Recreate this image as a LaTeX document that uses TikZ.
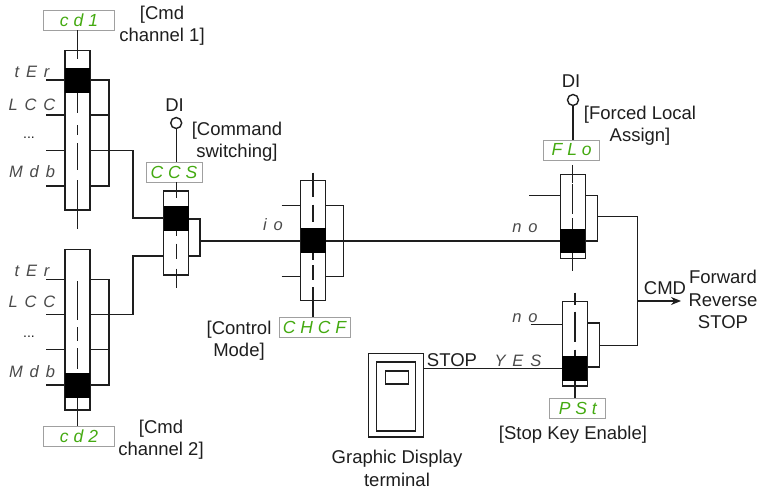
\documentclass[tikz,border=0pt]{standalone}
\usepackage{fontspec}
\setmainfont{Liberation Sans}
\newfontfamily\segf[LetterSpace=28]{Liberation Sans}
\newfontfamily\segg[LetterSpace=42]{Liberation Sans}
\usetikzlibrary{arrows.meta}
\definecolor{ink}{HTML}{1E1E1E}
\definecolor{lcd}{HTML}{44AA11}
\definecolor{frame}{HTML}{A0A0A0}
\definecolor{seggray}{HTML}{4A4A4A}
\tikzset{
  wire/.style={draw=ink,line width=1.4pt},
  swbox/.style={draw=ink,line width=1.4pt,fill=white,rectangle,inner sep=0pt,minimum width=25pt},
  band/.style={fill=black,rectangle,inner sep=0pt,minimum width=25pt,minimum height=25pt},
  lcdbox/.style={draw=frame,line width=0.9pt,fill=white,rectangle,inner sep=0pt,minimum height=20pt,text=lcd,font=\segf\itshape\fontsize{17.5}{17.5}\selectfont},
  seglab/.style={inner sep=0pt,text=seggray,font=\segg\itshape\fontsize{16.5}{17}\selectfont},
  lab/.style={inner sep=0pt,text=ink,font=\fontsize{18.5}{22.3}\selectfont},
  contact/.style={circle,draw=ink,line width=1.4pt,fill=white,inner sep=0pt,minimum size=11pt},
  termbox/.style={draw=ink,line width=1.5pt,rectangle,inner sep=0pt}
}
\begin{document}
\begin{tikzpicture}[x=1pt,y=-1pt]
\useasboundingbox (0,0) rectangle (763,492);
% ---------- switch cd1
\node[swbox,minimum height=159.5pt] (s1) at (77.5,130.3) {};
\coordinate (s1a) at (46,80); \coordinate (s1b) at (46,115);
\coordinate (s1c) at (46,150.5); \coordinate (s1d) at (46,186);
\coordinate (s1r) at (109,80); \coordinate (s1rb) at (109,186);
\coordinate (s1j) at (109,150.5); \coordinate (s1k) at (133,150.5);
\coordinate (s1gap) at (77.5,59); \coordinate (s1end) at (77.5,229);
\node[lcdbox,minimum width=71pt] (cd1) at (79,20) {cd1};
\draw[wire] (cd1.south -| s1gap) -- (s1gap);
\draw[wire] (s1a) -- (s1a -| s1.west); \draw[wire] (s1b) -- (s1b -| s1.west);
\draw[wire] (s1c) -- (s1c -| s1.west); \draw[wire] (s1d) -- (s1d -| s1.west);
\draw[wire] (s1r -| s1.east) -- (s1r) -- (s1rb) -- (s1rb -| s1.east);
\draw[wire] (s1b -| s1.east) -- (s1b -| s1r);
\draw[wire] (s1c -| s1.east) -- (s1k);
\node[band] (s1bar) at (77.5,80.5) {};
\draw[wire,dash pattern=on 20pt off 12pt on 10pt off 8pt on 27pt off 10pt on 60pt] (s1bar.south) -- (s1end);
% ---------- switch cd2
\node[swbox,minimum height=160.5pt] (s2) at (77.5,329.7) {};
\coordinate (s2a) at (46,279.5); \coordinate (s2b) at (46,314.5);
\coordinate (s2c) at (46,349.5); \coordinate (s2d) at (46,385);
\coordinate (s2r) at (109,279.5); \coordinate (s2rb) at (109,385);
\coordinate (s2j) at (133,314.5);
\coordinate (s2top) at (77.5,281); \coordinate (s2low) at (77.5,369);
\node[lcdbox,minimum width=71pt] (cd2) at (79,436) {cd2};
\draw[wire] (s2a) -- (s2a -| s2.west); \draw[wire] (s2b) -- (s2b -| s2.west);
\draw[wire] (s2c) -- (s2c -| s2.west); \draw[wire] (s2d) -- (s2d -| s2.west);
\draw[wire] (s2r -| s2.east) -- (s2r) -- (s2rb) -- (s2rb -| s2.east);
\draw[wire] (s2c -| s2.east) -- (s2c -| s2r);
\draw[wire] (s2b -| s2.east) -- (s2j);
\draw[wire,dash pattern=on 39pt off 7pt on 14pt off 7pt on 40pt] (s2top) -- (s2low);
\node[band] (s2bar) at (77.5,385.5) {};
\draw[wire] (s2bar.south) -- (cd2.north -| s2bar);
% ---------- switch CCS
\node[swbox,minimum height=84pt] (s3) at (176.2,233) {};
\node[band] (s3bar) at (176.2,218) {};
\node[contact] (di1) at (176.2,123) {};
\node[lcdbox,minimum width=56pt] (ccs) at (174,172) {CCS};
\coordinate (s3end) at (176.2,288);
\coordinate (s3r) at (200,219); \coordinate (s3rb) at (200,256);
\coordinate (mainA) at (200,241);
\coordinate (s3u) at (176.2,198);
\draw[wire] (di1) -- (ccs.north -| di1);
\draw[wire] (ccs.south -| di1) -- (s3u);
\draw[wire,dash pattern=on 5pt off 8pt on 15pt off 10pt on 30pt] (s3bar.south) -- (s3end);
\draw[wire] (s1k) -- (s2j |- s3bar.west) -- (s3bar.west);
\draw[wire] (s2j) -- (s2j |- s3rb) -- (s3rb -| s3.west);
\draw[wire] (s3r -| s3.east) -- (s3r) -- (s3rb) -- (s3rb -| s3.east);
% ---------- switch CHCF
\node[swbox,minimum height=120pt] (s4) at (313,240.7) {};
\node[band] (s4bar) at (313,240.5) {};
\node[lcdbox,minimum width=71pt] (chcf) at (314.5,327) {CHCF};
\coordinate (s4top) at (313,172.7);
\coordinate (s4a) at (281.7,205.7); \coordinate (s4b) at (281.7,276.7);
\coordinate (s4r) at (343.7,205.7); \coordinate (s4rb) at (343.7,276.7);
\draw[wire,dash pattern=on 24pt off 8pt on 17pt off 20pt] (s4top) -- (s4bar.north);
\draw[wire,dash pattern=on 7pt off 5pt on 15pt off 7pt on 40pt] (s4bar.south) -- (chcf.north -| s4bar);
\draw[wire] (s4a) -- (s4a -| s4.west); \draw[wire] (s4b) -- (s4b -| s4.west);
\draw[wire] (s4r -| s4.east) -- (s4r) -- (s4rb) -- (s4rb -| s4.east);
% ---------- switch FLo
\node[swbox,minimum height=84pt] (s5) at (572.7,216.3) {};
\node[band,minimum height=24.5pt] (s5bar) at (572.7,241) {};
\node[contact] (di2) at (573,100) {};
\node[lcdbox,minimum width=56pt] (flo) at (571.7,150) {FLo};
\coordinate (s5u) at (572.7,165); \coordinate (s5end) at (572.7,271);
\coordinate (s5a) at (529,195.7);
\coordinate (s5r) at (597.3,195.7); \coordinate (s5rb) at (597.3,241);
\coordinate (s5o) at (597.3,216.7); \coordinate (out1) at (637.7,216.7);
\draw[wire] (di2) -- (flo.north -| di2);
\draw[wire,dash pattern=on 18pt off 1pt on 30pt off 4pt on 12pt] (s5u) -- (s5bar.north);
\draw[wire] (s5bar.south) -- (s5end);
\draw[wire] (s5a) -- (s5a -| s5.west);
\draw[wire] (s5r -| s5.east) -- (s5r) -- (s5rb) -- (s5rb -| s5.east);
% ---------- main line
\draw[wire] (mainA) -- (s4bar.west |- mainA);
\draw[wire] (s4bar.east |- mainA) -- (s5bar.west |- mainA);
% ---------- switch PSt
\node[swbox,minimum height=84.3pt] (s6) at (574.8,343.9) {};
\node[band] (s6bar) at (574.8,368.5) {};
\node[lcdbox,minimum width=56pt] (pst) at (577.8,408) {PSt};
\coordinate (s6top) at (574.8,292.7);
\coordinate (s6a) at (530.7,324.3);
\coordinate (s6r) at (599.3,323); \coordinate (s6rb) at (599.3,367);
\coordinate (s6o) at (599.3,345.7); \coordinate (out2) at (637.7,345.7);
\draw[wire,dash pattern=on 12pt off 7pt on 30pt off 8pt on 6pt] (s6top) -- (s6bar.north);
\draw[wire] (s6bar.south) -- (pst.north -| s6bar);
\draw[wire] (s6a) -- (s6a -| s6.west);
\draw[wire] (s6r -| s6.east) -- (s6r) -- (s6rb) -- (s6rb -| s6.east);
% ---------- outputs
\coordinate (cmdJ) at (637.7,301); \coordinate (cmdTip) at (681,301);
\draw[wire] (s5o) -- (out1) -- (out2) -- (s6o);
\draw[wire,-{Stealth[length=10pt,width=8pt]}] (cmdJ) -- (cmdTip);
% ---------- terminal
\node[termbox,minimum width=54.6pt,minimum height=83.7pt] (term) at (396,395.2) {};
\node[termbox,minimum width=38.6pt,minimum height=69pt] (termin) at (396,396.5) {};
\node[termbox,minimum width=23.4pt,minimum height=13.3pt] (termsc) at (397,377.4) {};
\draw[wire] (term.east |- s6bar.west) -- (s6bar.west);
% ---------- segment-display captions
\node[seglab] (l1) at (32,72) {tEr};
\node[seglab] (l2) at (32,105) {LCC};
\node[lab,font=\fontsize{14}{14}\selectfont] (l3) at (29,138) {...};
\node[seglab] (l4) at (32,172) {Mdb};
\node[seglab] (l5) at (32,271) {tEr};
\node[seglab] (l6) at (32,302) {LCC};
\node[lab,font=\fontsize{14}{14}\selectfont] (l7) at (29,337) {...};
\node[seglab] (l8) at (32,372) {Mdb};
\node[seglab] (l9) at (273,225) {io};
\node[seglab] (l10) at (525,228) {no};
\node[seglab] (l11) at (525,318) {no};
\node[seglab] (l12) at (518,361) {YES};
% ---------- labels
\node[lab,align=center] (t1) at (162,26) {[Cmd\\channel 1]};
\node[lab,align=center] (t2) at (161,439.5) {[Cmd\\channel 2]};
\node[lab] (t3) at (174.5,105) {DI};
\node[lab,align=center] (t4) at (237,142) {[Command\\switching]};
\node[lab,align=center] (t5) at (239,341) {[Control\\Mode]};
\node[lab] (t6) at (571,81) {DI};
\node[lab,align=center] (t7) at (640,126) {[Forced Local\\Assign]};
\node[lab] (t8) at (452,360) {STOP};
\node[lab,align=center] (t9) at (397,468.5) {Graphic Display\\terminal};
\node[lab] (t10) at (573,435) {[Stop Key Enable]};
\node[lab] (t11) at (665,288) {CMD};
\node[lab,align=center] (t12) at (723,299.5) {Forward\\Reverse\\STOP};
\end{tikzpicture}
\end{document}
